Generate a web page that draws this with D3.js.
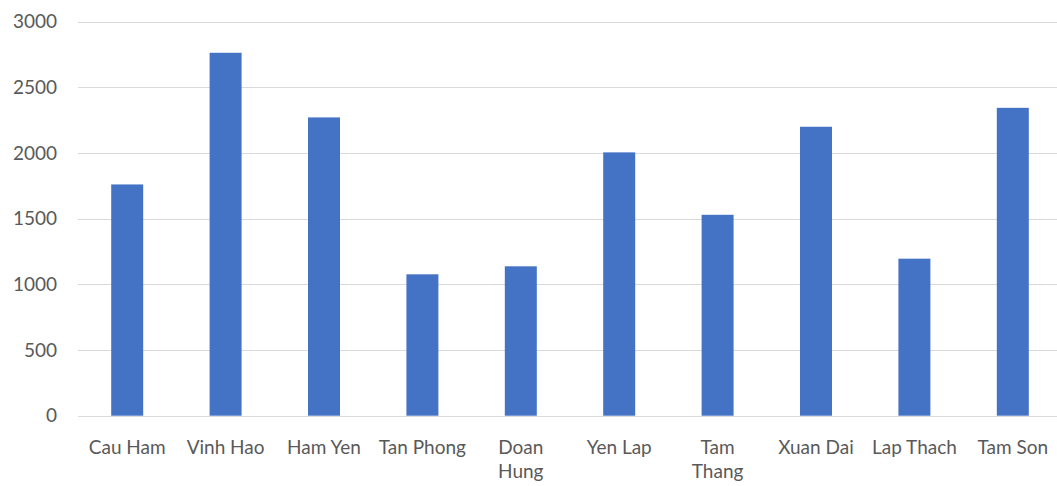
<!DOCTYPE html>
<html>
<head>
<meta charset="utf-8" />
<title></title>
<style>
html, body {
    padding: 0px;
    margin: 0px;
    background: #fff;
}
text {
    font-family: Lato, "Liberation Sans", sans-serif;
    fill: #595959;
}
</style>
</head>
<body>
<div id="chart"></div>

<script src="https://cdnjs.cloudflare.com/ajax/libs/d3/7.8.5/d3.min.js"></script>
<script>
var categories = ["Cau Ham", "Vinh Hao", "Ham Yen", "Tan Phong", "Doan Hung",
                  "Yen Lap", "Tam Thang", "Xuan Dai", "Lap Thach", "Tam Son"];
var values = [1760, 2762, 2270, 1076, 1137, 2004, 1529, 2199, 1195, 2343];
var yTicks = [0, 500, 1000, 1500, 2000, 2500, 3000];
// labels Excel wrapped onto two lines
var wrapped = ["Doan Hung", "Tam Thang"];

!(function(){
    "use strict"

    var width = 1057, height = 486;

    var svg = d3.select("#chart").append("svg")
        .attr("width", width)
        .attr("height", height)

    var x = d3.scaleBand()
        .domain(categories)
        .range([78, 1062])
        .paddingInner(0.675)
        .paddingOuter(0.3375)

    var y = d3.scaleLinear()
        .domain([0, 3000])
        .range([415.7, 21.5])

    // gridlines
    svg.append("g")
        .selectAll("line")
        .data(yTicks)
        .enter()
        .append("line")
        .attr("x1", 78)
        .attr("x2", width)
        .attr("y1", function(d){ return Math.round(y(d)) + 0.5 })
        .attr("y2", function(d){ return Math.round(y(d)) + 0.5 })
        .attr("stroke", "#d9d9d9")
        .attr("stroke-width", 1.2)

    // y labels
    svg.append("g")
        .selectAll("text")
        .data(yTicks)
        .enter()
        .append("text")
        .attr("x", 57)
        .attr("y", function(d){ return y(d) })
        .attr("dy", "0.35em")
        .attr("text-anchor", "end")
        .style("font-size", "19px")
        .text(function(d){ return d })

    // bars
    svg.append("g")
        .selectAll("rect")
        .data(values)
        .enter()
        .append("rect")
        .attr("x", function(d, i){ return x(categories[i]) })
        .attr("width", x.bandwidth())
        .attr("y", function(d){ return y(d) })
        .attr("height", function(d){ return y(0) - y(d) })
        .attr("fill", "#4472c4")

    // category labels
    var lab = svg.append("g")
        .selectAll("text")
        .data(categories)
        .enter()
        .append("text")
        .attr("text-anchor", "middle")
        .attr("y", 447)
        .style("font-size", "19px")

    lab.each(function(d){
        var t = d3.select(this)
        var cx = x(d) + x.bandwidth() / 2
        var lines = wrapped.indexOf(d) >= 0 ? d.split(" ") : [d]
        lines.forEach(function(s, k){
            t.append("tspan")
                .attr("x", cx)
                .attr("dy", k == 0 ? "0.35em" : "24px")
                .text(s)
        })
    })

}());
</script>
</body>
</html>
